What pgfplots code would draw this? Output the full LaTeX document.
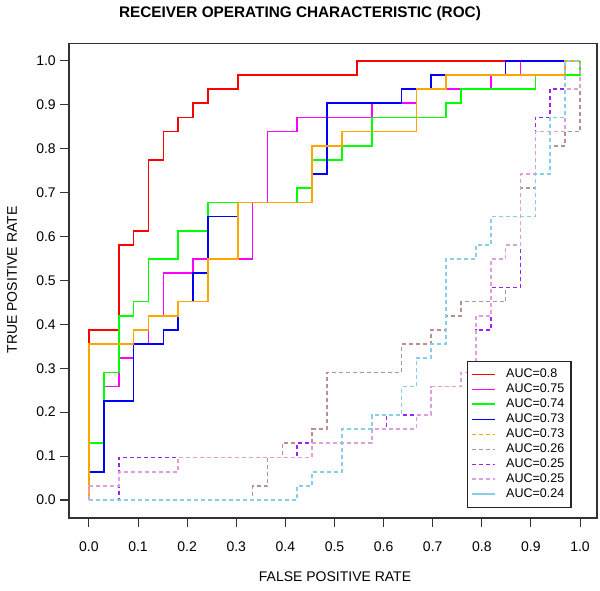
\documentclass[border=0pt]{standalone}
\usepackage{fontspec}
\setmainfont{Liberation Sans}
\usepackage{pgfplots}
\pgfplotsset{compat=1.18}
\definecolor{rred}{RGB}{255,0,0}
\definecolor{rmag}{RGB}{255,0,255}
\definecolor{rgreen}{RGB}{0,255,0}
\definecolor{rblue}{RGB}{0,0,255}
\definecolor{rorange}{RGB}{255,165,0}
\definecolor{rrosy}{RGB}{188,143,143}
\definecolor{rpurple}{RGB}{160,32,240}
\definecolor{rplum}{RGB}{221,160,221}
\definecolor{rsky}{RGB}{135,206,235}
\begin{document}
\begin{tikzpicture}
\path[use as bounding box] (0,0) rectangle (450pt,442.5pt);
\begin{axis}[
  at={(51.75pt,54pt)}, anchor=south west,
  scale only axis, width=396pt, height=356pt,
  xmin=-1.34, xmax=34.14, ymin=-1.27, ymax=32.23,
  axis line style={black!80, line width=0.8pt},
  tick align=outside, major tick length=6.75pt,
  tick style={black!80, line width=0.8pt},
  xtick={0,3.3,6.6,9.9,13.2,16.5,19.8,23.1,26.4,29.7,33},
  xticklabels={0.0,0.1,0.2,0.3,0.4,0.5,0.6,0.7,0.8,0.9,1.0},
  ytick={0,3.1,6.2,9.3,12.4,15.5,18.6,21.7,24.8,27.9,31},
  yticklabels={0.0,0.1,0.2,0.3,0.4,0.5,0.6,0.7,0.8,0.9,1.0},
  xtick pos=bottom, ytick pos=left,
  ticklabel style={font=\fontsize{10.5}{12}\selectfont},
  xticklabel style={anchor=north, inner sep=0pt},
  yticklabel style={anchor=east, inner sep=0pt},
  xticklabel shift=11pt,
  yticklabel shift=3pt,
  legend cell align=left,
  legend style={at={(0.7538,0.0211)}, anchor=south west, draw=black!85, line width=0.8pt,
    font=\fontsize{9.4}{11}\selectfont, row sep=-0.85pt, column sep=5.5pt,
    inner xsep=3pt, inner ysep=4pt},
  every axis plot/.append style={line width=1.25pt},
]
\addplot[color=rred, forget plot] coordinates {(0,0)(0,12)(2,12)(2,18)(3,18)(3,19)(4,19)(4,24)(5,24)(5,26)(6,26)(6,27)(7,27)(7,28)(8,28)(8,29)(10,29)(10,30)(18,30)(18,31)(33,31)};
\addplot[color=rmag, forget plot] coordinates {(0,0)(0,2)(1,2)(1,8)(2,8)(2,10)(3,10)(3,11)(4,11)(4,13)(5,13)(5,16)(7,16)(7,17)(11,17)(11,21)(12,21)(12,26)(14,26)(14,27)(19,27)(19,28)(22,28)(22,29)(27,29)(27,30)(29,30)(29,31)(33,31)};
\addplot[color=rgreen, forget plot] coordinates {(0,0)(0,4)(1,4)(1,9)(2,9)(2,13)(3,13)(3,14)(4,14)(4,17)(6,17)(6,19)(8,19)(8,21)(14,21)(14,22)(15,22)(15,24)(17,24)(17,25)(19,25)(19,27)(24,27)(24,28)(25,28)(25,29)(30,29)(30,30)(33,30)(33,31)};
\addplot[color=rblue, forget plot] coordinates {(0,0)(0,2)(1,2)(1,7)(3,7)(3,11)(5,11)(5,12)(6,12)(6,14)(7,14)(7,16)(8,16)(8,20)(10,20)(10,21)(15,21)(15,23)(16,23)(16,28)(21,28)(21,29)(23,29)(23,30)(28,30)(28,31)(33,31)};
\addplot[color=rorange, forget plot] coordinates {(0,0)(0,11)(3,11)(3,12)(4,12)(4,13)(6,13)(6,14)(8,14)(8,17)(10,17)(10,21)(15,21)(15,25)(17,25)(17,26)(22,26)(22,29)(24,29)(24,30)(32,30)(32,31)(33,31)};
\addplot[color=rrosy, dash pattern=on 3pt off 2.25pt, forget plot] coordinates {(0,0)(11,0)(11,1)(12,1)(12,3)(13,3)(13,4)(15,4)(15,5)(16,5)(16,9)(21,9)(21,11)(23,11)(23,12)(24,12)(24,13)(25,13)(25,14)(28,14)(28,15)(29,15)(29,22)(30,22)(30,23)(31,23)(31,25)(32,25)(32,26)(33,26)(33,31)};
\addplot[color=rpurple, dash pattern=on 3pt off 2.25pt, forget plot] coordinates {(0,0)(2,0)(2,3)(14,3)(14,4)(19,4)(19,5)(20,5)(20,6)(23,6)(23,8)(25,8)(25,9)(26,9)(26,12)(27,12)(27,15)(29,15)(29,23)(30,23)(30,27)(31,27)(31,29)(32,29)(32,31)(33,31)};
\addplot[color=rplum, dash pattern=on 3pt off 2.25pt, forget plot] coordinates {(0,0)(0,1)(2,1)(2,2)(6,2)(6,3)(15,3)(15,4)(19,4)(19,5)(22,5)(22,6)(23,6)(23,8)(25,8)(25,9)(26,9)(26,13)(27,13)(27,17)(28,17)(28,18)(29,18)(29,23)(30,23)(30,26)(32,26)(32,29)(33,29)(33,31)};
\addplot[color=rsky, dash pattern=on 3pt off 2.25pt, forget plot] coordinates {(0,0)(14,0)(14,1)(15,1)(15,2)(17,2)(17,5)(19,5)(19,6)(21,6)(21,8)(22,8)(22,10)(23,10)(23,11)(24,11)(24,17)(26,17)(26,18)(27,18)(27,20)(30,20)(30,23)(31,23)(31,27)(32,27)(32,31)(33,31)};
\addlegendimage{color=rred, line width=1pt}
\addlegendentry{AUC=0.8}
\addlegendimage{color=rmag, line width=1pt}
\addlegendentry{AUC=0.75}
\addlegendimage{color=rgreen, line width=1.4pt}
\addlegendentry{AUC=0.74}
\addlegendimage{color=rblue, line width=1pt}
\addlegendentry{AUC=0.73}
\addlegendimage{color=rorange, line width=1pt, dash pattern=on 3pt off 2.25pt}
\addlegendentry{AUC=0.73}
\addlegendimage{color=rrosy, line width=1pt, dash pattern=on 3pt off 2.25pt}
\addlegendentry{AUC=0.26}
\addlegendimage{color=rpurple, line width=1pt, dash pattern=on 3pt off 2.25pt}
\addlegendentry{AUC=0.25}
\addlegendimage{color=rplum, line width=1pt, dash pattern=on 3pt off 2.25pt}
\addlegendentry{AUC=0.25}
\addlegendimage{color=rsky, line width=1.4pt}
\addlegendentry{AUC=0.24}
\end{axis}
\node[font=\bfseries\fontsize{11.5}{13}\selectfont] at (225pt,432.5pt) {RECEIVER OPERATING CHARACTERISTIC (ROC)};
\node[font=\fontsize{10.5}{12}\selectfont] at (251.25pt,10pt) {FALSE POSITIVE RATE};
\node[font=\fontsize{10.5}{12}\selectfont, rotate=90] at (9pt,232.5pt) {TRUE POSITIVE RATE};
\end{tikzpicture}
\end{document}
